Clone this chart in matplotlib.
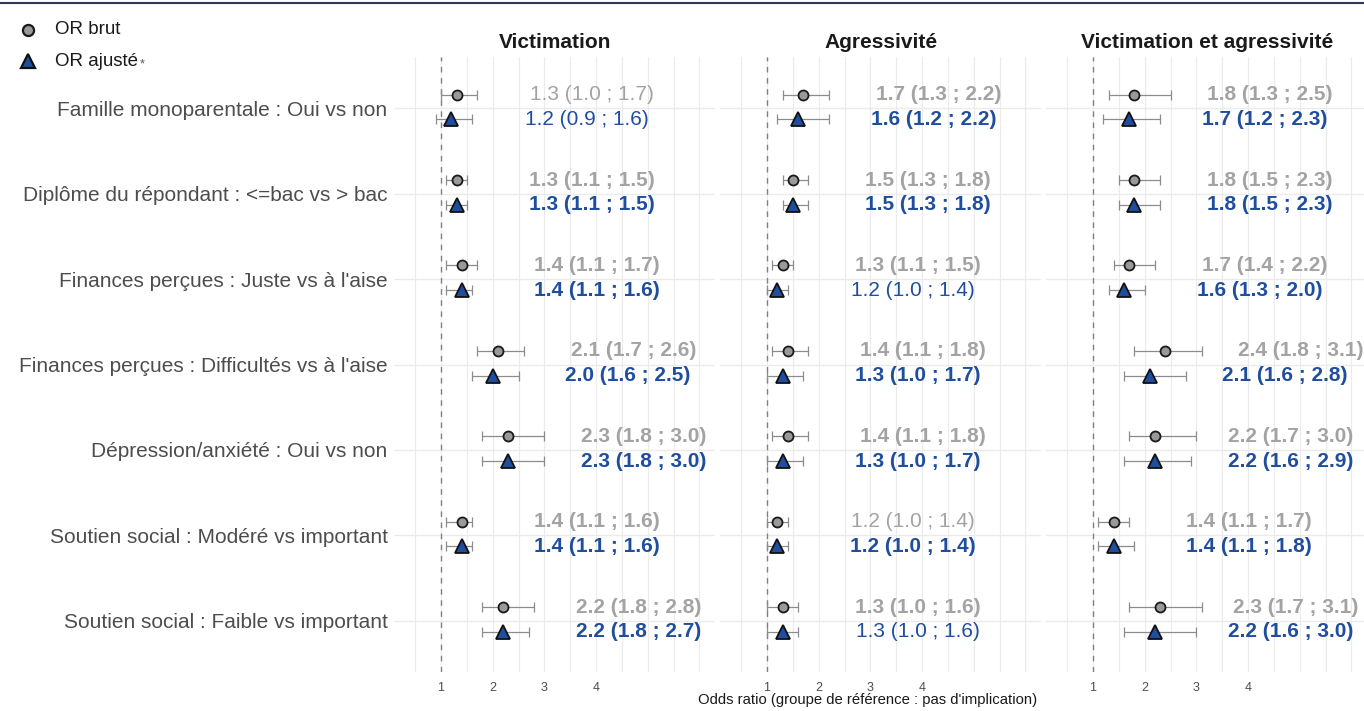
import numpy as np
import matplotlib.pyplot as plt
from matplotlib.lines import Line2D

plt.rcParams['font.family'] = ['Liberation Sans', 'DejaVu Sans']

# row labels and panel names
categories = [
    "Famille monoparentale : Oui vs non",
    "Diplôme du répondant : <=bac vs > bac",
    "Finances perçues : Juste vs à l'aise",
    "Finances perçues : Difficultés vs à l'aise",
    "Dépression/anxiété : Oui vs non",
    "Soutien social : Modéré vs important",
    "Soutien social : Faible vs important",
]
panels = ["Victimation", "Agressivité", "Victimation et agressivité"]

# crude odds ratios (one list per panel)
brut_or = [[1.3, 1.3, 1.4, 2.1, 2.3, 1.4, 2.2],
           [1.7, 1.5, 1.3, 1.4, 1.4, 1.2, 1.3],
           [1.8, 1.8, 1.7, 2.4, 2.2, 1.4, 2.3]]
brut_lo = [[1.0, 1.1, 1.1, 1.7, 1.8, 1.1, 1.8],
           [1.3, 1.3, 1.1, 1.1, 1.1, 1.0, 1.0],
           [1.3, 1.5, 1.4, 1.8, 1.7, 1.1, 1.7]]
brut_hi = [[1.7, 1.5, 1.7, 2.6, 3.0, 1.6, 2.8],
           [2.2, 1.8, 1.5, 1.8, 1.8, 1.4, 1.6],
           [2.5, 2.3, 2.2, 3.1, 3.0, 1.7, 3.1]]
brut_sig = [[0, 1, 1, 1, 1, 1, 1],
            [1, 1, 1, 1, 1, 0, 1],
            [1, 1, 1, 1, 1, 1, 1]]

# adjusted odds ratios
adj_or = [[1.2, 1.3, 1.4, 2.0, 2.3, 1.4, 2.2],
          [1.6, 1.5, 1.2, 1.3, 1.3, 1.2, 1.3],
          [1.7, 1.8, 1.6, 2.1, 2.2, 1.4, 2.2]]
adj_lo = [[0.9, 1.1, 1.1, 1.6, 1.8, 1.1, 1.8],
          [1.2, 1.3, 1.0, 1.0, 1.0, 1.0, 1.0],
          [1.2, 1.5, 1.3, 1.6, 1.6, 1.1, 1.6]]
adj_hi = [[1.6, 1.5, 1.6, 2.5, 3.0, 1.6, 2.7],
          [2.2, 1.8, 1.4, 1.7, 1.7, 1.4, 1.6],
          [2.3, 2.3, 2.0, 2.8, 2.9, 1.8, 3.0]]
adj_sig = [[0, 1, 1, 1, 1, 1, 1],
           [1, 1, 0, 1, 1, 1, 0],
           [1, 1, 1, 1, 1, 1, 1]]

W, H = 1364, 711
grey_txt = '#a3a3a3'
blue_txt = '#1f4e9f'
dark = '#4d4d4d'

fig = plt.figure(figsize=(W / 100, H / 100), dpi=100)

# panel geometry in pixels
px_unit = 51.67
xmin, xmax = 0.1, 6.3
one_px = [441, 767, 1093]
top_px, bot_px = 57, 672

rows = np.arange(1, len(categories) + 1)
off_b, off_a = -0.16, 0.13

for k in range(3):
    left = one_px[k] - (1 - xmin) * px_unit
    width = (xmax - xmin) * px_unit
    ax = fig.add_axes([left / W, 1 - bot_px / H, width / W, (bot_px - top_px) / H])
    ax.set_xlim(xmin, xmax)
    ax.set_ylim(len(categories) + 0.6, 0.4)

    # grid
    for gx in np.arange(0.5, 6.01, 0.5):
        ax.axvline(gx, color='#ebebeb', lw=0.8, zorder=0)
    for gy in rows:
        ax.axhline(gy, color='#ebebeb', lw=1.0, zorder=0)
    ax.axvline(1, color='#808080', lw=1.0, ls=(0, (4, 4)), zorder=1)

    b = np.array(brut_or[k]); a = np.array(adj_or[k])
    ax.errorbar(b, rows + off_b,
                xerr=[b - np.array(brut_lo[k]), np.array(brut_hi[k]) - b],
                fmt='none', ecolor='#8c8c8c', elinewidth=0.9, capsize=3.6, capthick=0.9, zorder=2)
    ax.errorbar(a, rows + off_a,
                xerr=[a - np.array(adj_lo[k]), np.array(adj_hi[k]) - a],
                fmt='none', ecolor='#8c8c8c', elinewidth=0.9, capsize=3.6, capthick=0.9, zorder=2)
    ax.plot(b, rows + off_b, 'o', ms=7.2, mfc='#999999', mec='#1a1a1a', mew=1.3, zorder=3)
    ax.plot(a, rows + off_a, '^', ms=9.5, mfc='#1f4e9f', mec='#111111', mew=1.3, zorder=3)

    for i in range(len(categories)):
        ax.text(b[i] + 2.62, rows[i] + off_b,
                f"{brut_or[k][i]:.1f} ({brut_lo[k][i]:.1f} ; {brut_hi[k][i]:.1f})",
                ha='center', va='center', fontsize=15, color=grey_txt,
                fontweight='bold' if brut_sig[k][i] else 'normal')
        ax.text(a[i] + 2.62, rows[i] + off_a,
                f"{adj_or[k][i]:.1f} ({adj_lo[k][i]:.1f} ; {adj_hi[k][i]:.1f})",
                ha='center', va='center', fontsize=15, color=blue_txt,
                fontweight='bold' if adj_sig[k][i] else 'normal')

    ax.set_xticks([1, 2, 3, 4])
    ax.set_xticklabels(['1', '2', '3', '4'])
    ax.set_yticks(rows)
    if k == 0:
        ax.set_yticklabels(categories)
    else:
        ax.set_yticklabels([])
    ax.tick_params(axis='x', length=0, labelsize=9, labelcolor=dark, pad=7)
    ax.tick_params(axis='y', length=0, labelsize=15, labelcolor=dark, pad=5)
    for s in ax.spines.values():
        s.set_visible(False)

    fig.text((left + width / 2) / W, 1 - 42 / H, panels[k], ha='center', va='center',
             fontsize=15, fontweight='bold', color='#1a1a1a')

fig.text(868 / W, 1 - 700 / H, "Odds ratio (groupe de référence : pas d'implication)",
         ha='center', va='center', fontsize=10.7, color='#1a1a1a')

# legend
fig.add_artist(Line2D([28 / W], [1 - 30 / H], marker='o', ms=8, mfc='#999999',
                      mec='#1a1a1a', mew=1.6, transform=fig.transFigure))
fig.add_artist(Line2D([28 / W], [1 - 61 / H], marker='^', ms=10.5, mfc='#1f4e9f',
                      mec='#111111', mew=1.6, transform=fig.transFigure))
fig.text(55 / W, 1 - 30 / H, "OR brut", ha='left', va='center', fontsize=13.5, color='#1a1a1a')
fig.text(55 / W, 1 - 61 / H, "OR ajusté", ha='left', va='center', fontsize=13.5, color='#1a1a1a')
fig.text(140 / W, 1 - 64 / H, "*", ha='left', va='center', fontsize=9, color='#555555')

# top rule
fig.add_artist(Line2D([0, 1], [1 - 3 / H, 1 - 3 / H], color='#2e3a59', lw=1.5,
                      transform=fig.transFigure))

plt.savefig('out.png', dpi=100)
plt.close(fig)
